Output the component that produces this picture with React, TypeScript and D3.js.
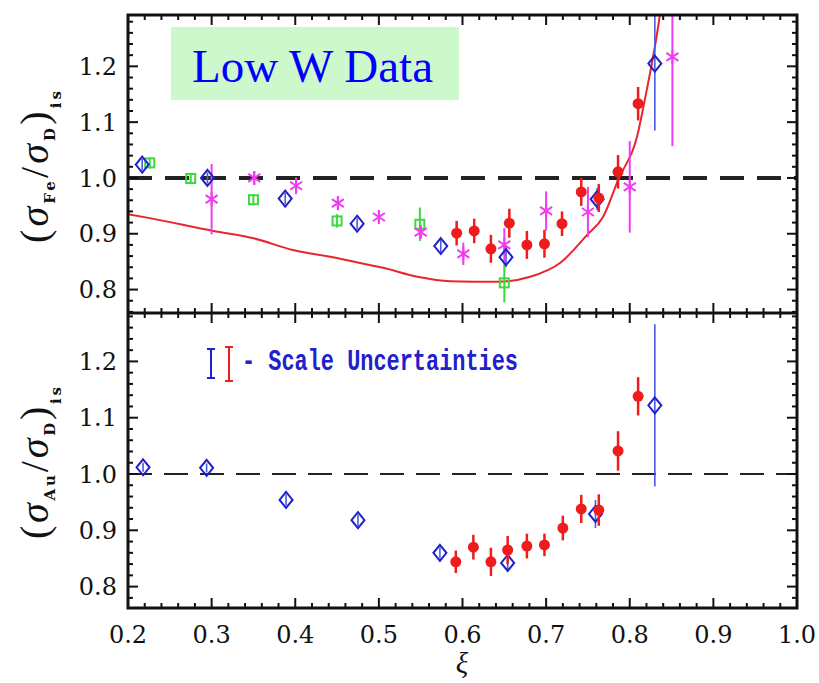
import React, { useRef, useEffect } from 'react';
import * as d3 from 'd3';

// x axis (xi) tick labels
const xiTicks = [0.2, 0.3, 0.4, 0.5, 0.6, 0.7, 0.8, 0.9, 1.0];
const ratioTicks = [0.8, 0.9, 1.0, 1.1, 1.2];

// top panel: Fe / D
const blueFeX = [0.217, 0.295, 0.388, 0.474, 0.574, 0.652, 0.761, 0.830];
const blueFeY = [1.024, 1.0, 0.963, 0.918, 0.878, 0.858, 0.962, 1.205];
const blueFeErr = [0.01, 0.01, 0.01, 0.01, 0.012, 0.018, 0.02, 0.12];

const redFeX = [0.593, 0.614, 0.634, 0.656, 0.677, 0.698, 0.719, 0.742, 0.763, 0.786, 0.81];
const redFeY = [0.901, 0.905, 0.873, 0.919, 0.88, 0.882, 0.918, 0.975, 0.964, 1.011, 1.133];
const redFeErr = [0.022, 0.022, 0.025, 0.026, 0.025, 0.025, 0.022, 0.025, 0.025, 0.03, 0.03];

const magFeX = [0.3, 0.351, 0.401, 0.451, 0.5, 0.55, 0.601, 0.65, 0.7, 0.75, 0.8, 0.851];
const magFeY = [0.962, 1.0, 0.986, 0.955, 0.93, 0.903, 0.864, 0.88, 0.941, 0.939, 0.984, 1.217];
const magFeErr = [0.063, 0.012, 0.015, 0.012, 0.012, 0.012, 0.02, 0.03, 0.035, 0.045, 0.082, 0.16];

const greenFeX = [0.226, 0.275, 0.35, 0.45, 0.549, 0.65];
const greenFeY = [1.027, 0.999, 0.961, 0.923, 0.917, 0.812];
const greenFeErr = [0.01, 0.01, 0.01, 0.012, 0.03, 0.035];

const modelX = [0.2, 0.226, 0.302, 0.35, 0.397, 0.445, 0.489, 0.505, 0.546, 0.585, 0.641, 0.681, 0.717, 0.749, 0.768, 0.786, 0.81, 0.818, 0.836, 0.845];
const modelY = [0.935, 0.928, 0.905, 0.892, 0.871, 0.858, 0.844, 0.839, 0.823, 0.815, 0.814, 0.823, 0.848, 0.898, 0.93, 0.996, 1.082, 1.14, 1.292, 1.4];

// bottom panel: Au / D
const blueAuX = [0.218, 0.294, 0.389, 0.475, 0.573, 0.654, 0.759, 0.83];
const blueAuY = [1.012, 1.011, 0.954, 0.918, 0.86, 0.842, 0.929, 1.122];
const blueAuErr = [0.008, 0.008, 0.01, 0.01, 0.01, 0.012, 0.025, 0.144];

const redAuX = [0.592, 0.613, 0.634, 0.654, 0.677, 0.698, 0.72, 0.742, 0.763, 0.786, 0.81];
const redAuY = [0.844, 0.87, 0.844, 0.865, 0.872, 0.874, 0.904, 0.938, 0.936, 1.041, 1.138];
const redAuErr = [0.02, 0.022, 0.025, 0.025, 0.022, 0.02, 0.022, 0.025, 0.028, 0.035, 0.034];

const BLUE = '#2020cc';
const RED = '#ee1c1c';
const MAGENTA = '#f03cf0';
const GREEN = '#3ed83e';

function RatioChart() {
    const svgRef = useRef<SVGSVGElement>(null);
    const width = 819, height = 683;
    const left = 128, right = 797;

    const xScale = d3.scaleLinear().domain([0.2, 1.0]).range([left, right]);
    const yTop = d3.scaleLinear().domain([0.758, 1.292]).range([313, 15]);
    const yBot = d3.scaleLinear().domain([0.762, 1.286]).range([608, 313]);

    useEffect(() => {
        drawSvg();
    });

    const isMajor = (v: number) => Math.abs(v * 10 - Math.round(v * 10)) < 1e-6;

    const drawPanel = (svg: any, y: any, id: string, dashW: number) => {
        const [y0, y1] = y.range();
        svg.append('clipPath').attr('id', id)
            .append('rect')
            .attr('x', left).attr('y', y1)
            .attr('width', right - left).attr('height', y0 - y1);

        // reference line at 1.0
        svg.append('line')
            .attr('x1', left).attr('x2', right)
            .attr('y1', y(1.0)).attr('y2', y(1.0))
            .attr('stroke', '#222')
            .attr('stroke-width', dashW)
            .attr('stroke-dasharray', dashW > 3 ? '24,13' : '24,12');

        const ticks = svg.append('g').attr('stroke', '#111').attr('stroke-width', 2);
        d3.range(0.2, 1.0001, 0.02).forEach((v: number) => {
            const len = isMajor(v) ? 10 : 5;
            const px = xScale(v);
            ticks.append('line').attr('x1', px).attr('x2', px).attr('y1', y0).attr('y2', y0 - len);
            ticks.append('line').attr('x1', px).attr('x2', px).attr('y1', y1).attr('y2', y1 + len);
        });
        const [d0, d1] = y.domain();
        d3.range(0.76, 1.2901, 0.02).filter((v: number) => v >= d0 && v <= d1).forEach((v: number) => {
            const len = isMajor(v) ? 10 : 5;
            const py = y(v);
            ticks.append('line').attr('x1', left).attr('x2', left + len).attr('y1', py).attr('y2', py);
            ticks.append('line').attr('x1', right).attr('x2', right - len).attr('y1', py).attr('y2', py);
        });

        svg.append('g').selectAll('text').data(ratioTicks)
            .enter().append('text')
            .attr('x', left - 11)
            .attr('y', (d: number) => y(d))
            .attr('dy', '0.36em')
            .attr('text-anchor', 'end')
            .attr('font-family', 'DejaVu Serif')
            .attr('font-size', 24)
            .attr('fill', '#111')
            .text((d: number) => d.toFixed(1));
    };

    const errBars = (g: any, xs: number[], ys: number[], es: number[], y: any, color: string, w: number) => {
        g.append('g').selectAll('line').data(xs)
            .enter().append('line')
            .attr('x1', (d: number) => xScale(d))
            .attr('x2', (d: number) => xScale(d))
            .attr('y1', (d: number, i: number) => y(ys[i] - es[i]))
            .attr('y2', (d: number, i: number) => y(ys[i] + es[i]))
            .attr('stroke', color)
            .attr('stroke-width', w);
    };

    const diamonds = (g: any, xs: number[], ys: number[], y: any) => {
        g.append('g').selectAll('path').data(xs)
            .enter().append('path')
            .attr('d', (d: number, i: number) => {
                const cx = xScale(d), cy = y(ys[i]);
                return `M${cx},${cy - 8}L${cx + 6.5},${cy}L${cx},${cy + 8}L${cx - 6.5},${cy}Z`;
            })
            .attr('fill', 'none')
            .attr('stroke', BLUE)
            .attr('stroke-width', 2);
    };

    const dots = (g: any, xs: number[], ys: number[], y: any) => {
        g.append('g').selectAll('circle').data(xs)
            .enter().append('circle')
            .attr('cx', (d: number) => xScale(d))
            .attr('cy', (d: number, i: number) => y(ys[i]))
            .attr('r', 5.5)
            .attr('fill', RED);
    };

    const drawSvg = () => {
        const svg = d3.select(svgRef.current);
        svg.selectAll('*').remove();

        drawPanel(svg, yTop, 'clipTop', 4);
        drawPanel(svg, yBot, 'clipBot', 2.2);

        // ---- top panel data ----
        const gt = svg.append('g').attr('clip-path', 'url(#clipTop)');
        const line = d3.line<number>()
            .x((d) => xScale(d))
            .y((d, i) => yTop(modelY[i]))
            .curve(d3.curveMonotoneX);
        gt.append('path')
            .attr('d', line(modelX))
            .attr('fill', 'none')
            .attr('stroke', '#e8262b')
            .attr('stroke-width', 2);

        errBars(gt, greenFeX, greenFeY, greenFeErr, yTop, GREEN, 2);
        gt.append('g').selectAll('rect').data(greenFeX)
            .enter().append('rect')
            .attr('x', (d: number) => xScale(d) - 4.5)
            .attr('y', (d: number, i: number) => yTop(greenFeY[i]) - 4.5)
            .attr('width', 9).attr('height', 9)
            .attr('fill', 'none')
            .attr('stroke', GREEN)
            .attr('stroke-width', 2);

        errBars(gt, magFeX, magFeY, magFeErr, yTop, MAGENTA, 2);
        gt.append('g').selectAll('path').data(magFeX)
            .enter().append('path')
            .attr('d', (d: number, i: number) => {
                const cx = xScale(d), cy = yTop(magFeY[i]);
                return `M${cx},${cy - 7}L${cx},${cy + 7}M${cx - 6},${cy - 4}L${cx + 6},${cy + 4}M${cx - 6},${cy + 4}L${cx + 6},${cy - 4}`;
            })
            .attr('stroke', MAGENTA)
            .attr('stroke-width', 2)
            .attr('fill', 'none');

        errBars(gt, blueFeX, blueFeY, blueFeErr, yTop, '#4a5ae0', 1.6);
        diamonds(gt, blueFeX, blueFeY, yTop);

        errBars(gt, redFeX, redFeY, redFeErr, yTop, RED, 2.5);
        dots(gt, redFeX, redFeY, yTop);

        // ---- bottom panel data ----
        const gb = svg.append('g').attr('clip-path', 'url(#clipBot)');
        errBars(gb, blueAuX, blueAuY, blueAuErr, yBot, '#4a5ae0', 1.6);
        diamonds(gb, blueAuX, blueAuY, yBot);
        errBars(gb, redAuX, redAuY, redAuErr, yBot, RED, 2.5);
        dots(gb, redAuX, redAuY, yBot);

        // frames
        svg.append('rect')
            .attr('x', left).attr('y', 15)
            .attr('width', right - left).attr('height', 608 - 15)
            .attr('fill', 'none').attr('stroke', '#111').attr('stroke-width', 3);
        svg.append('line')
            .attr('x1', left).attr('x2', right).attr('y1', 313).attr('y2', 313)
            .attr('stroke', '#111').attr('stroke-width', 3);

        // x tick labels
        svg.append('g').selectAll('text').data(xiTicks)
            .enter().append('text')
            .attr('x', (d: number) => xScale(d))
            .attr('y', 643)
            .attr('text-anchor', 'middle')
            .attr('font-family', 'DejaVu Serif')
            .attr('font-size', 24)
            .attr('fill', '#111')
            .text((d: number) => d.toFixed(1));
        svg.append('text')
            .attr('x', 462).attr('y', 673)
            .attr('text-anchor', 'middle')
            .attr('font-family', 'Liberation Serif')
            .attr('font-style', 'italic')
            .attr('font-size', 29)
            .attr('fill', '#111')
            .text('ξ');

        // y titles
        const yTitle = (cx: number, cy: number, sub: string) => {
            const t = svg.append('text')
                .attr('transform', `translate(${cx},${cy}) rotate(-90)`)
                .attr('text-anchor', 'middle')
                .attr('fill', '#111')
                .attr('font-family', 'Liberation Serif')
                .attr('font-size', 40)
                .attr('textLength', 152)
                .attr('lengthAdjust', 'spacing');
            t.append('tspan').text('(');
            t.append('tspan').attr('font-style', 'italic').text('σ');
            t.append('tspan').attr('font-family', 'DejaVu Serif').attr('font-weight', 'bold')
                .attr('font-size', 15).attr('dy', 7).text(sub);
            t.append('tspan').attr('dy', -7).text('/');
            t.append('tspan').attr('font-style', 'italic').text('σ');
            t.append('tspan').attr('font-family', 'DejaVu Serif').attr('font-weight', 'bold')
                .attr('font-size', 15).attr('dy', 7).text('D');
            t.append('tspan').attr('dy', -7).text(')');
            t.append('tspan').attr('font-family', 'DejaVu Serif').attr('font-weight', 'bold')
                .attr('font-size', 15).attr('dy', 13).text('is');
        };
        yTitle(48, 167, 'Fe');
        yTitle(48, 463, 'Au');

        // label box
        svg.append('rect')
            .attr('x', 171).attr('y', 27)
            .attr('width', 288).attr('height', 73)
            .attr('fill', '#ccf8cc');
        svg.append('text')
            .attr('x', 192).attr('y', 82)
            .attr('font-family', 'Liberation Serif')
            .attr('font-size', 47)
            .attr('fill', '#0000ff')
            .text('Low W Data');

        // scale uncertainty legend
        const legend = svg.append('g');
        const legBar = (x: number, y1: number, y2: number, color: string) => {
            legend.append('path')
                .attr('d', `M${x - 4},${y1}H${x + 4}M${x},${y1}V${y2}M${x - 4},${y2}H${x + 4}`)
                .attr('stroke', color)
                .attr('stroke-width', 2)
                .attr('fill', 'none');
        };
        legBar(211, 349, 378, BLUE);
        legBar(229, 347, 381, RED);
        legend.append('text')
            .attr('x', 242).attr('y', 370)
            .attr('font-family', 'Liberation Mono')
            .attr('font-weight', 'bold')
            .attr('font-size', 29)
            .attr('fill', BLUE)
            .attr('textLength', 276)
            .attr('lengthAdjust', 'spacingAndGlyphs')
            .text('- Scale Uncertainties');
    };

    return (
        <div className="ratioChart">
            <svg ref={svgRef} width={width} height={height}
                style={{ position: 'absolute', left: 0, top: 0, background: '#fff' }} />
        </div>
    );
}

export default function App() {
    return <RatioChart />;
}
